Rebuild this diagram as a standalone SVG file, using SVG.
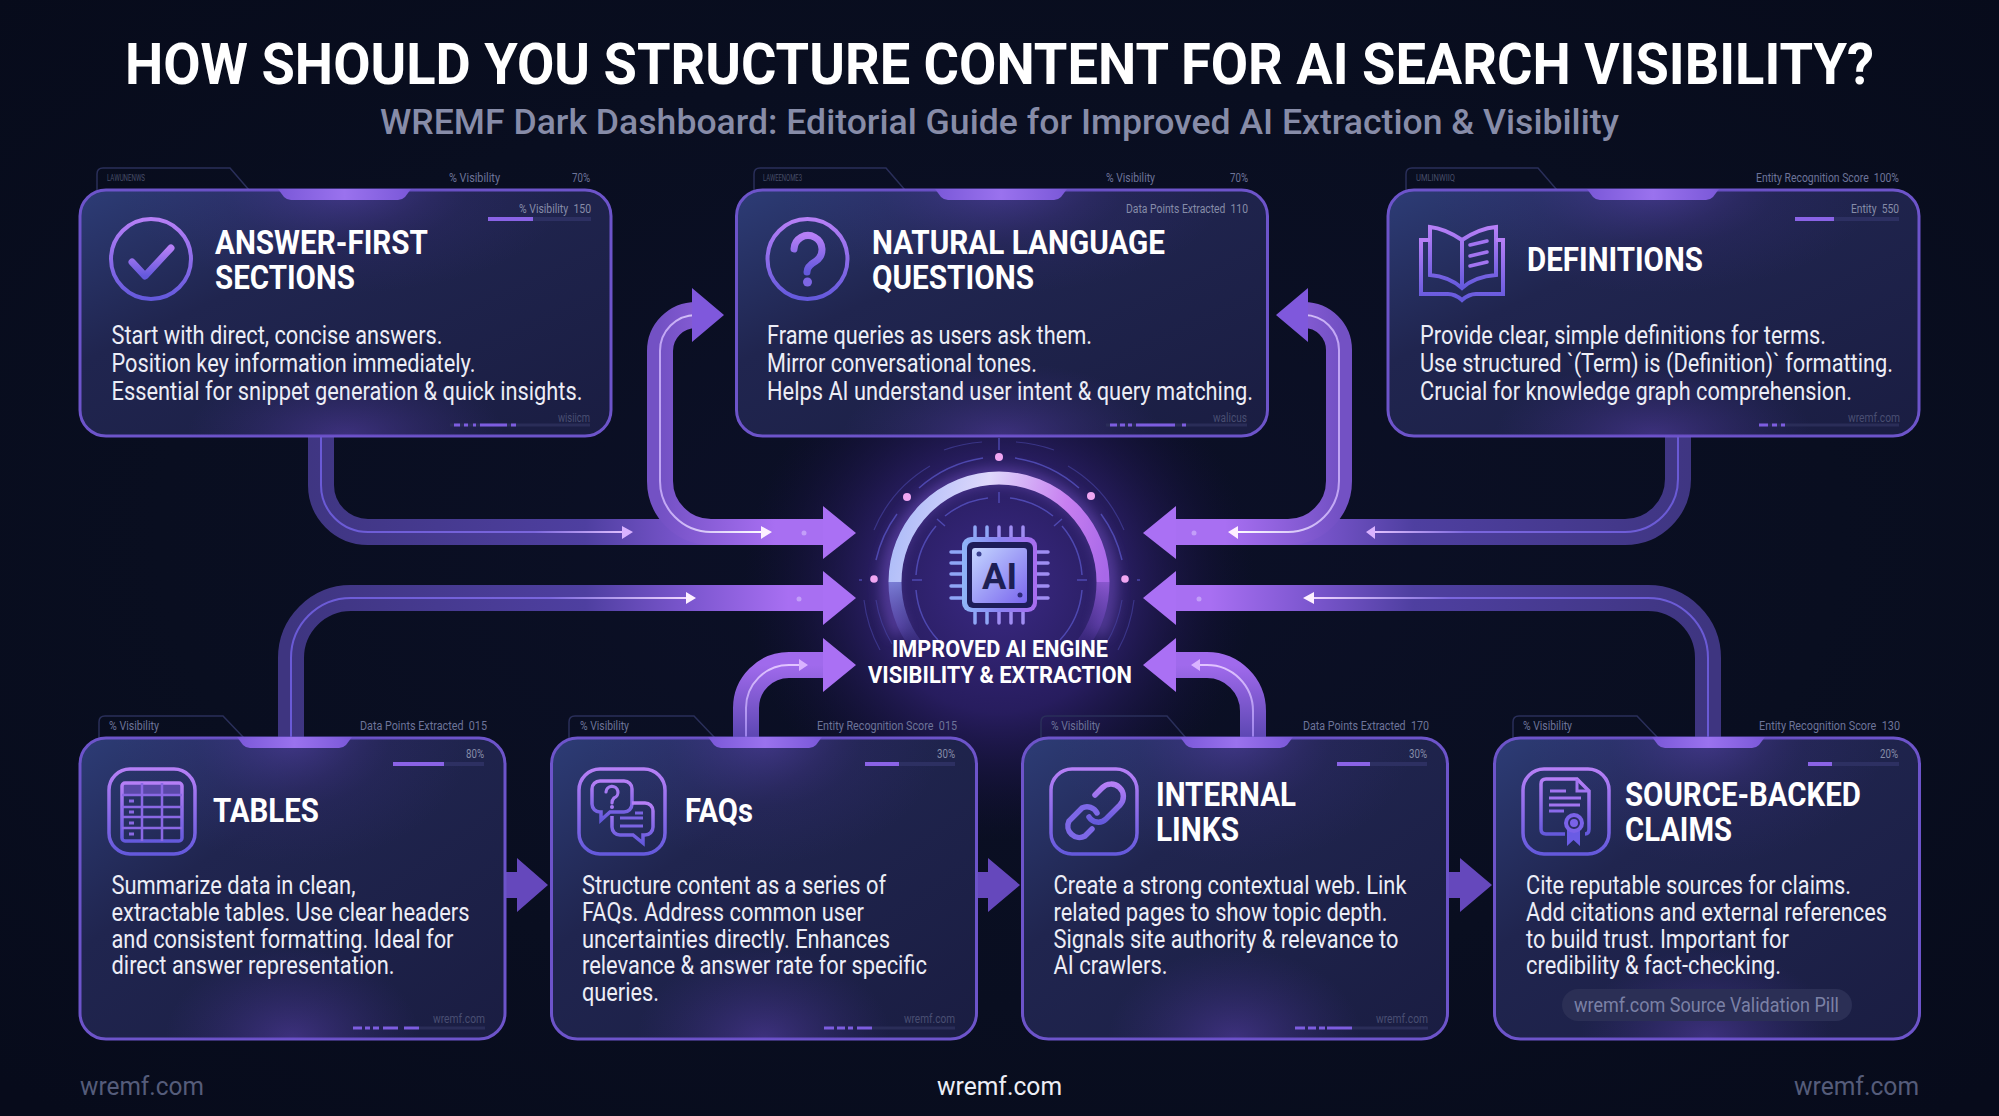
<svg xmlns="http://www.w3.org/2000/svg" width="1999" height="1116" viewBox="0 0 1999 1116">
<defs>
<radialGradient id="bg" cx="50%" cy="48%" r="70%"><stop offset="0" stop-color="#0c1028"/><stop offset="0.6" stop-color="#090e20"/><stop offset="1" stop-color="#070b1b"/></radialGradient>
<radialGradient id="coreGlow" gradientUnits="userSpaceOnUse" cx="999" cy="585" r="255"><stop offset="0" stop-color="#3c2a86" stop-opacity="1"/><stop offset="0.5" stop-color="#2c1f68" stop-opacity=".85"/><stop offset="1" stop-color="#150f3a" stop-opacity="0"/></radialGradient>
<linearGradient id="cardFill" x1="0" y1="0" x2="1" y2="1"><stop offset="0" stop-color="#2d3c76"/><stop offset="0.35" stop-color="#20254f"/><stop offset="1" stop-color="#1a1d42"/></linearGradient>
<radialGradient id="glowT" cx="50%" cy="0%" r="42%"><stop offset="0" stop-color="#6a48c8" stop-opacity=".42"/><stop offset="0.55" stop-color="#4a3498" stop-opacity=".12"/><stop offset="1" stop-color="#4a3498" stop-opacity="0"/></radialGradient>
<radialGradient id="glowB" cx="50%" cy="100%" r="30%"><stop offset="0" stop-color="#6a48c8" stop-opacity=".42"/><stop offset="1" stop-color="#4a3498" stop-opacity="0"/></radialGradient>
<linearGradient id="icon" x1="0" y1="0" x2="0" y2="1"><stop offset="0" stop-color="#b67ff6"/><stop offset="1" stop-color="#6459dc"/></linearGradient>
<linearGradient id="notch" x1="0" y1="0" x2="1" y2="0"><stop offset="0" stop-color="#7a58d8"/><stop offset="0.5" stop-color="#9a72ee"/><stop offset="1" stop-color="#7a58d8"/></linearGradient>
<linearGradient id="pR" gradientUnits="userSpaceOnUse" x1="291" y1="0" x2="826" y2="0"><stop offset="0" stop-color="#3e3580"/><stop offset="0.55" stop-color="#4e3fa0"/><stop offset="0.75" stop-color="#7d57d0"/><stop offset="0.93" stop-color="#a86ff2"/></linearGradient>
<linearGradient id="pL" gradientUnits="userSpaceOnUse" x1="1708" y1="0" x2="1173" y2="0"><stop offset="0" stop-color="#3e3580"/><stop offset="0.55" stop-color="#4e3fa0"/><stop offset="0.75" stop-color="#7d57d0"/><stop offset="0.93" stop-color="#a86ff2"/></linearGradient>
<linearGradient id="pR2" gradientUnits="userSpaceOnUse" x1="660" y1="0" x2="775" y2="0"><stop offset="0" stop-color="#7351c4"/><stop offset="1" stop-color="#a86ff2"/></linearGradient>
<linearGradient id="pL2" gradientUnits="userSpaceOnUse" x1="1339" y1="0" x2="1225" y2="0"><stop offset="0" stop-color="#7351c4"/><stop offset="1" stop-color="#a86ff2"/></linearGradient>
<linearGradient id="pS1" gradientUnits="userSpaceOnUse" x1="0" y1="738" x2="0" y2="665"><stop offset="0" stop-color="#5c47b2"/><stop offset="1" stop-color="#a06aec"/></linearGradient>
<linearGradient id="c1" gradientUnits="userSpaceOnUse" x1="321" y1="0" x2="626" y2="0"><stop offset="0" stop-color="#6a5ad6"/><stop offset="0.7" stop-color="#7a66dc"/><stop offset="1" stop-color="#e2c0ff"/></linearGradient>
<linearGradient id="c2" gradientUnits="userSpaceOnUse" x1="660" y1="0" x2="765" y2="0"><stop offset="0" stop-color="#c0a4f4"/><stop offset="1" stop-color="#ffffff"/></linearGradient>
<linearGradient id="c5" gradientUnits="userSpaceOnUse" x1="291" y1="0" x2="688" y2="0"><stop offset="0" stop-color="#6a5ad6"/><stop offset="0.65" stop-color="#7a66dc"/><stop offset="1" stop-color="#f2d8ff"/></linearGradient>
<linearGradient id="c6" gradientUnits="userSpaceOnUse" x1="0" y1="738" x2="0" y2="665"><stop offset="0" stop-color="#9a80ea"/><stop offset="1" stop-color="#e2c4ff"/></linearGradient>
<linearGradient id="c3" gradientUnits="userSpaceOnUse" x1="1339" y1="0" x2="1236" y2="0"><stop offset="0" stop-color="#c0a4f4"/><stop offset="1" stop-color="#ffffff"/></linearGradient>
<linearGradient id="c4" gradientUnits="userSpaceOnUse" x1="1678" y1="0" x2="1375" y2="0"><stop offset="0" stop-color="#6a5ad6"/><stop offset="0.7" stop-color="#7a66dc"/><stop offset="1" stop-color="#e2c0ff"/></linearGradient>
<linearGradient id="c8" gradientUnits="userSpaceOnUse" x1="1708" y1="0" x2="1311" y2="0"><stop offset="0" stop-color="#6a5ad6"/><stop offset="0.65" stop-color="#7a66dc"/><stop offset="1" stop-color="#f2d8ff"/></linearGradient>
<linearGradient id="ring" gradientUnits="userSpaceOnUse" x1="889" y1="500" x2="1109" y2="560"><stop offset="0" stop-color="#a5b8f8"/><stop offset="0.4" stop-color="#dfd8fb"/><stop offset="0.75" stop-color="#c77ff0"/><stop offset="1" stop-color="#a868e8"/></linearGradient>
<linearGradient id="ringL" gradientUnits="userSpaceOnUse" x1="0" y1="564" x2="0" y2="650"><stop offset="0" stop-color="#8f9ff0"/><stop offset="1" stop-color="#5a4ab8" stop-opacity=".15"/></linearGradient>
<linearGradient id="ringR" gradientUnits="userSpaceOnUse" x1="0" y1="564" x2="0" y2="650"><stop offset="0" stop-color="#a868e8"/><stop offset="1" stop-color="#5a3ab0" stop-opacity=".15"/></linearGradient>
<linearGradient id="chip" x1="0" y1="0" x2="1" y2="0"><stop offset="0" stop-color="#8fb6f8"/><stop offset="0.5" stop-color="#8a84f2"/><stop offset="1" stop-color="#a86cf0"/></linearGradient>
<linearGradient id="plate" x1="0" y1="0" x2="1" y2="1"><stop offset="0" stop-color="#c4d6ff"/><stop offset="1" stop-color="#7a66ee"/></linearGradient>
<filter id="soft" x="-30%" y="-30%" width="160%" height="160%"><feGaussianBlur stdDeviation="7"/></filter>
</defs>
<style>
text{font-family:Roboto,"Liberation Sans",sans-serif}
.h{font-size:58px;font-weight:700;fill:#fff}
.s{font-size:35px;font-weight:500;fill:#878ca8}
.t{font-size:33px;font-weight:700;fill:#fff}
.b{font-size:25px;font-weight:400;fill:#ecedf6}
.l{font-size:12px;fill:#6d7499;white-space:pre}
.li{font-size:12px;fill:#868ca8;white-space:pre}
.w{font-size:13px;fill:#494e72}
.g{font-size:9.5px;fill:#474d68}
.f{font-size:26px;fill:#555c7a}
.fc{font-size:26px;fill:#eceef6}
.cap{font-size:24px;font-weight:700;fill:#fff}
.card{fill:url(#cardFill);stroke:#6d54ca;stroke-width:3}
.gt{fill:url(#glowT)}.gb{fill:url(#glowB)}
.n{fill:url(#notch)}
.tab{fill:none;stroke:#2a2f5a;stroke-width:1.5}
.ic{fill:none;stroke:url(#icon);stroke-width:4}
.ib{fill:none;stroke:url(#icon);stroke-width:3.5}
.track{stroke:#2d3062;stroke-width:4;fill:none}
.fill{stroke:#8a63e6;stroke-width:4;fill:none}
.dt{stroke:#2a2d58;stroke-width:3;fill:none}
.ds{stroke:#7d5de0;stroke-width:3;fill:none}
.p{fill:none;stroke-width:26}
.cl{fill:none;stroke-width:2}
.hd{fill:#aa70f4}
.sa{fill:#6548bc}
.spark{fill:#d8c4ff;opacity:.55}
.thin{fill:none;stroke:#5a55c8;stroke-width:1.5;stroke-opacity:.75}
.thin2{fill:none;stroke:#4a46a8;stroke-width:1.2;stroke-opacity:.6}
.dot{fill:#f0a6f2}
.pin{stroke-width:3.5;stroke-linecap:round;fill:none}
</style>
<rect width="1999" height="1116" fill="url(#bg)"/>
<rect x="740" y="330" width="520" height="510" fill="url(#coreGlow)"/>
<text class="h" x="125" y="84" textLength="1749" lengthAdjust="spacingAndGlyphs">HOW SHOULD YOU STRUCTURE CONTENT FOR AI SEARCH VISIBILITY?</text>
<text class="s" x="380" y="134" textLength="1239" lengthAdjust="spacingAndGlyphs">WREMF Dark Dashboard: Editorial Guide for Improved AI Extraction &amp; Visibility</text>

<g id="connectors">
<path class="p" stroke="url(#pR)" d="M321 436 V485 A47 47 0 0 0 368 532 H826"/>
<path class="p" stroke="url(#pL)" d="M1678 436 V479 A53 53 0 0 1 1625 532 H1173"/>
<path class="p" stroke="url(#pR2)" d="M696 315 A36 36 0 0 0 660 351 V481 A51 51 0 0 0 711 532 H826"/>
<path class="p" stroke="url(#pL2)" d="M1304 315 A35 35 0 0 1 1339 350 V481 A51 51 0 0 1 1288 532 H1173"/>
<path class="p" stroke="url(#pR)" d="M291 738 V658 A60 60 0 0 1 351 598 H826"/>
<path class="p" stroke="url(#pL)" d="M1708 738 V658 A60 60 0 0 0 1648 598 H1173"/>
<path class="p" stroke="url(#pS1)" d="M746 738 V708 A43 43 0 0 1 789 665 H826"/>
<path class="p" stroke="url(#pS1)" d="M1253 738 V711 A46 46 0 0 0 1207 665 H1173"/>
<path class="cl" stroke="url(#c2)" d="M696 315 A36 36 0 0 0 660 351 V481 A51 51 0 0 0 711 532 H765"/>
<path class="cl" stroke="url(#c3)" d="M1304 315 A35 35 0 0 1 1339 350 V481 A51 51 0 0 1 1288 532 H1236"/>
<path class="cl" stroke="url(#c1)" d="M321 436 V485 A47 47 0 0 0 368 532 H626"/>
<path class="cl" stroke="url(#c4)" d="M1678 436 V479 A53 53 0 0 1 1625 532 H1375"/>
<path class="cl" stroke="url(#c5)" d="M291 738 V658 A60 60 0 0 1 351 598 H688"/>
<path class="cl" stroke="url(#c8)" d="M1708 738 V658 A60 60 0 0 0 1648 598 H1311"/>
<path class="cl" stroke="url(#c6)" d="M746 738 V708 A43 43 0 0 1 789 665 H801"/>
<path class="cl" stroke="url(#c6)" d="M1253 738 V711 A46 46 0 0 0 1207 665 H1198"/>
<path fill="#d9b2ff" d="M622 526 L633 532 L622 539ZM1375 526 L1366 532 L1375 539ZM799 659 L808 665 L799 671ZM1200 659 L1191 665 L1200 671Z"/>
<path fill="#fdf0ff" d="M761 526 L772 532 L761 539ZM1238 526 L1228 532 L1238 539ZM686 592 L696 598 L686 604ZM1314 592 L1303 598 L1314 604Z"/>
<path fill="#7f58dc" d="M692 288 L724 315 L692 342ZM1308 288 L1276 315 L1308 342Z"/>
<path class="hd" d="M823 506 L856 533 L823 559ZM823 571 L856 598 L823 625ZM823 638 L856 665 L823 692ZM1176 506 L1143 533 L1176 559ZM1176 571 L1143 598 L1176 625ZM1176 638 L1143 665 L1176 692Z"/>
<path class="sa" d="M506 872 H517 V858 L548 885 L517 912 V898 H506ZM977 872 H988 V858 L1020 885 L988 912 V898 H977ZM1448 872 H1460 V858 L1492 885 L1460 912 V898 H1448Z"/>
<circle class="spark" cx="804" cy="533" r="2.5"/><circle class="spark" cx="799" cy="599" r="2.5"/><circle class="spark" cx="1194" cy="533" r="2.5"/><circle class="spark" cx="1199" cy="599" r="2.5"/>
</g>

<g id="engine">
<path d="M900 634 A110 110 0 1 1 1098 634" fill="none" stroke="#8a60e0" stroke-width="16" opacity=".45" filter="url(#soft)"/>
<path class="thin2" d="M874 530 A135 135 0 0 1 930 466M944 450 A140 140 0 0 1 982 442M1016 442 A140 140 0 0 1 1054 450M1068 466 A135 135 0 0 1 1124 530"/>
<path class="thin" d="M876 560 A124 124 0 0 1 897 514M919 488 A124 124 0 0 1 983 458M1015 458 A124 124 0 0 1 1079 488M1101 514 A124 124 0 0 1 1122 560"/>
<path class="thin2" d="M864 600 A136 136 0 0 0 880 650M1134 600 A136 136 0 0 1 1118 650M876 600 A124 124 0 0 0 892 644M1122 600 A124 124 0 0 1 1106 644"/>
<path class="thin" d="M916 575 A84 84 0 0 1 936 526M945 516 A84 84 0 0 1 988 498M1010 498 A84 84 0 0 1 1053 516M1062 526 A84 84 0 0 1 1082 575M916 590 A84 84 0 0 0 938 640M1082 590 A84 84 0 0 1 1060 640"/>
<path class="thin" d="M999 492 V503M912 580 H922M1077 580 H1087M937 519 L945 526M1062 519 L1054 526M999 438 V450M859 580 H862M1137 580 H1140"/>
<path d="M895 582 A104 104 0 0 1 1103 582" fill="none" stroke="url(#ring)" stroke-width="13"/>
<path d="M895 582 A104 104 0 0 0 916 645" fill="none" stroke="url(#ringL)" stroke-width="13"/>
<path d="M1103 582 A104 104 0 0 1 1082 645" fill="none" stroke="url(#ringR)" stroke-width="13"/>
<circle class="dot" cx="999" cy="457" r="4"/><circle class="dot" cx="907" cy="497" r="4"/><circle class="dot" cx="1091" cy="496" r="4"/><circle class="dot" cx="874" cy="579" r="3.8"/><circle class="dot" cx="1125" cy="579" r="3.8"/>
<path class="pin" stroke="#8fa6f6" d="M975 527 V537M987 527 V537M975 612 V623M987 612 V623M951 552 H962M951 563 H962M951 574 H962M951 586 H962M951 598 H962"/>
<path class="pin" stroke="#9f8df2" d="M999 527 V537M1011 527 V537M1023 527 V537M999 612 V623M1011 612 V623M1023 612 V623M1037 552 H1048M1037 563 H1048M1037 574 H1048M1037 586 H1048M1037 598 H1048"/>
<rect x="962" y="537" width="75" height="75" rx="9" fill="url(#chip)"/>
<rect x="967" y="542" width="66" height="66" rx="6" fill="#1d1c58"/>
<rect x="972" y="548" width="55" height="55" rx="3" fill="url(#plate)"/>
<circle cx="979" cy="554" r="2.5" fill="#3a4090"/><circle cx="1020" cy="595" r="2.5" fill="#2e2a78"/>
<text x="982" y="589" font-size="36" font-weight="700" fill="#1e1f55" textLength="35" lengthAdjust="spacingAndGlyphs">AI</text>
<text class="cap" x="892" y="657" textLength="216" lengthAdjust="spacingAndGlyphs">IMPROVED AI ENGINE</text>
<text class="cap" x="868" y="683" textLength="264" lengthAdjust="spacingAndGlyphs">VISIBILITY &amp; EXTRACTION</text>
</g>

<g id="card-answer-first">
<path class="tab" d="M97 190 V174 Q97 168 103 168 H230 L249 190"/>
<text class="g" x="107" y="181" textLength="38" lengthAdjust="spacingAndGlyphs">LAWUNENWS</text>
<text class="l" x="449" y="182" textLength="51" lengthAdjust="spacingAndGlyphs">% Visibility</text>
<text class="l" x="572" y="182" textLength="18" lengthAdjust="spacingAndGlyphs">70%</text>
<rect class="card" x="80" y="190" width="531" height="246" rx="26"/>
<rect class="gt" x="80" y="190" width="531" height="246" rx="26"/><rect class="gb" x="80" y="190" width="531" height="246" rx="26"/>
<path class="n" d="M278 189 H411 L405 197 Q402 200 398 200 H291 Q287 200 284 197Z"/>
<text class="li" x="519" y="213" textLength="72" lengthAdjust="spacingAndGlyphs">% Visibility  150</text>
<path class="track" d="M488 219 H591"/><path class="fill" d="M488 219 H533"/>
<circle class="ic" cx="151" cy="259" r="40" stroke-width="5"/>
<path fill="none" stroke="url(#icon)" stroke-width="7" stroke-linecap="round" stroke-linejoin="round" d="M132 262 L145 276 L171 248"/>
<text class="t"><tspan x="215" y="254" textLength="213" lengthAdjust="spacingAndGlyphs">ANSWER-FIRST</tspan><tspan x="215" y="289" textLength="140" lengthAdjust="spacingAndGlyphs">SECTIONS</tspan></text>
<text class="b" x="111.500" y="344" textLength="331" lengthAdjust="spacingAndGlyphs">Start with direct, concise answers.</text>
<text class="b" x="111.500" y="372" textLength="364" lengthAdjust="spacingAndGlyphs">Position key information immediately.</text>
<text class="b" x="111.500" y="400" textLength="471" lengthAdjust="spacingAndGlyphs">Essential for snippet generation &amp; quick insights.</text>
<text class="w" x="558" y="422" textLength="32" lengthAdjust="spacingAndGlyphs">wisiicm</text>
<path class="dt" d="M450 425 H590"/><path class="ds" d="M454 425 H460M464 425 H468M473 425 H476M480 425 H507M511 425 H516"/>
</g>

<g id="card-natural-language">
<path class="tab" d="M754 190 V174 Q754 168 760 168 H886 L905 190"/>
<text class="g" x="763" y="181" textLength="39" lengthAdjust="spacingAndGlyphs">LAWEENOME3</text>
<text class="l" x="1106" y="182" textLength="49" lengthAdjust="spacingAndGlyphs">% Visibility</text>
<text class="l" x="1230" y="182" textLength="18" lengthAdjust="spacingAndGlyphs">70%</text>
<rect class="card" x="736.500" y="190" width="531" height="246" rx="26"/>
<rect class="gt" x="736.500" y="190" width="531" height="246" rx="26"/><rect class="gb" x="736.500" y="190" width="531" height="246" rx="26"/>
<path class="n" d="M935 189 H1067 L1061 197 Q1058 200 1054 200 H948 Q944 200 941 197Z"/>
<text class="li" x="1126" y="213" textLength="122" lengthAdjust="spacingAndGlyphs">Data Points Extracted  110</text>
<circle class="ic" cx="807.500" cy="259" r="40" stroke-width="5"/>
<path fill="none" stroke="url(#icon)" stroke-width="7" stroke-linecap="round" d="M794 249 A14 14 0 1 1 816 261 C809 265 807 268 807 272"/>
<circle cx="807.500" cy="282" r="4.500" fill="#7d66e4"/>
<text class="t"><tspan x="872" y="254" textLength="293" lengthAdjust="spacingAndGlyphs">NATURAL LANGUAGE</tspan><tspan x="872" y="289" textLength="162" lengthAdjust="spacingAndGlyphs">QUESTIONS</tspan></text>
<text class="b" x="767" y="344" textLength="325" lengthAdjust="spacingAndGlyphs">Frame queries as users ask them.</text>
<text class="b" x="767" y="372" textLength="270" lengthAdjust="spacingAndGlyphs">Mirror conversational tones.</text>
<text class="b" x="767" y="400" textLength="486" lengthAdjust="spacingAndGlyphs">Helps AI understand user intent &amp; query matching.</text>
<text class="w" x="1213" y="422" textLength="34" lengthAdjust="spacingAndGlyphs">walicus</text>
<path class="dt" d="M1106 425 H1247"/><path class="ds" d="M1110 425 H1117M1120 425 H1125M1128 425 H1132M1136 425 H1175M1182 425 H1186"/>
</g>

<g id="card-definitions">
<path class="tab" d="M1406 190 V174 Q1406 168 1412 168 H1538 L1557 190"/>
<text class="g" x="1416" y="181" textLength="39" lengthAdjust="spacingAndGlyphs">UMLINWIIQ</text>
<text class="l" x="1756" y="182" textLength="143" lengthAdjust="spacingAndGlyphs">Entity Recognition Score  100%</text>
<rect class="card" x="1388" y="190" width="531" height="246" rx="26"/>
<rect class="gt" x="1388" y="190" width="531" height="246" rx="26"/><rect class="gb" x="1388" y="190" width="531" height="246" rx="26"/>
<path class="n" d="M1587 189 H1719 L1713 197 Q1710 200 1706 200 H1600 Q1596 200 1593 197Z"/>
<text class="li" x="1851" y="213" textLength="48" lengthAdjust="spacingAndGlyphs">Entity  550</text>
<path class="track" d="M1795 219 H1899"/><path class="fill" d="M1795 219 H1834"/>
<path class="ic" d="M1462 240 C1450 232 1440 228 1430 227 V275 C1442 276 1453 280 1462 288 C1471 280 1482 276 1496 275 V227 C1484 228 1474 232 1462 240 V288"/>
<path class="ic" d="M1430 240 H1421 V294 H1448 Q1455 294 1462 300 Q1469 294 1476 294 H1503 V240 H1496"/>
<path fill="none" stroke="#a274f0" stroke-width="3.500" stroke-linecap="round" d="M1470 245 L1487 241M1470 256 L1487 252M1470 266 L1487 262"/>
<text class="t" x="1527" y="271" textLength="176" lengthAdjust="spacingAndGlyphs">DEFINITIONS</text>
<text class="b" x="1420" y="344" textLength="406" lengthAdjust="spacingAndGlyphs">Provide clear, simple definitions for terms.</text>
<text class="b" x="1420" y="372" textLength="473" lengthAdjust="spacingAndGlyphs">Use structured `(Term) is (Definition)` formatting.</text>
<text class="b" x="1420" y="400" textLength="432" lengthAdjust="spacingAndGlyphs">Crucial for knowledge graph comprehension.</text>
<text class="w" x="1848" y="422" textLength="52" lengthAdjust="spacingAndGlyphs">wremf.com</text>
<path class="dt" d="M1759 425 H1899"/><path class="ds" d="M1759 425 H1768M1772 425 H1777M1781 425 H1785"/>
</g>

<g id="card-tables">
<path class="tab" d="M99 738 V722 Q99 716 105 716 H223 L244 738"/>
<text class="l" x="109" y="730" textLength="50" lengthAdjust="spacingAndGlyphs">% Visibility</text>
<text class="l" x="360" y="730" textLength="127" lengthAdjust="spacingAndGlyphs">Data Points Extracted  015</text>
<rect class="card" x="80" y="738" width="425" height="301" rx="26"/>
<rect class="gt" x="80" y="738" width="425" height="301" rx="26"/><rect class="gb" x="80" y="738" width="425" height="301" rx="26"/>
<path class="n" d="M237 737 H352 L346 745 Q343 748 339 748 H250 Q246 748 243 745Z"/>
<text class="li" x="466" y="758" textLength="18" lengthAdjust="spacingAndGlyphs">80%</text>
<path class="track" d="M393 764 H484"/><path class="fill" d="M393 764 H444"/>
<rect class="ib" x="109" y="769" width="86" height="85" rx="21"/>
<rect x="122" y="783" width="60" height="12" fill="#5a49a8"/>
<rect class="ib" x="122" y="783" width="60" height="58" rx="3" stroke-width="3"/>
<path fill="none" stroke="#8a68e4" stroke-width="2.500" d="M142 783 V841M162 783 V841M122 795 H182M122 807 H182M122 817 H182M122 828 H182"/>
<path fill="none" stroke="#8a68e4" stroke-width="3" d="M129 801 H134M129 812 H134M129 823 H134M129 834 H134"/>
<text class="t" x="213" y="822" textLength="106" lengthAdjust="spacingAndGlyphs">TABLES</text>
<text class="b" x="111.500" y="894" textLength="244" lengthAdjust="spacingAndGlyphs">Summarize data in clean,</text>
<text class="b" x="111.500" y="921" textLength="358" lengthAdjust="spacingAndGlyphs">extractable tables. Use clear headers</text>
<text class="b" x="111.500" y="948" textLength="342" lengthAdjust="spacingAndGlyphs">and consistent formatting. Ideal for</text>
<text class="b" x="111.500" y="974" textLength="283" lengthAdjust="spacingAndGlyphs">direct answer representation.</text>
<text class="w" x="433" y="1023" textLength="52" lengthAdjust="spacingAndGlyphs">wremf.com</text>
<path class="dt" d="M419 1028 H485"/><path class="ds" d="M353 1028 H362M365 1028 H370M373 1028 H379M383 1028 H398M404 1028 H419"/>
</g>

<g id="card-faqs">
<path class="tab" d="M569 738 V722 Q569 716 575 716 H694 L715 738"/>
<text class="l" x="580" y="730" textLength="49" lengthAdjust="spacingAndGlyphs">% Visibility</text>
<text class="l" x="817" y="730" textLength="140" lengthAdjust="spacingAndGlyphs">Entity Recognition Score  015</text>
<rect class="card" x="551.500" y="738" width="425" height="301" rx="26"/>
<rect class="gt" x="551.500" y="738" width="425" height="301" rx="26"/><rect class="gb" x="551.500" y="738" width="425" height="301" rx="26"/>
<path class="n" d="M708 737 H822 L816 745 Q813 748 809 748 H721 Q717 748 714 745Z"/>
<text class="li" x="937" y="758" textLength="18" lengthAdjust="spacingAndGlyphs">30%</text>
<path class="track" d="M865 764 H955"/><path class="fill" d="M865 764 H899"/>
<rect class="ib" x="579" y="769" width="86" height="85" rx="21"/>
<path class="ib" d="M600 781 H624 A8 8 0 0 1 632 789 V804 A8 8 0 0 1 624 812 H610 L601 820 V812 H600 A8 8 0 0 1 592 804 V789 A8 8 0 0 1 600 781Z"/>
<path class="ib" d="M632 803 H645 A8 8 0 0 1 653 811 V827 A8 8 0 0 1 645 835 H643 L643 843 L633 835 H620 A8 8 0 0 1 612 827 V816"/>
<path fill="none" stroke="#a67af2" stroke-width="3.200" stroke-linecap="round" d="M606 792 A6 6 0 1 1 614 798 C612 800 612 801 612 803"/>
<circle cx="612" cy="807" r="2" fill="#a67af2"/>
<path fill="none" stroke="#7a64e2" stroke-width="3" d="M635 813 H643M620 818 H643M620 826 H643"/>
<text class="t" x="685" y="822" textLength="68" lengthAdjust="spacingAndGlyphs">FAQs</text>
<text class="b" x="582" y="894" textLength="304" lengthAdjust="spacingAndGlyphs">Structure content as a series of</text>
<text class="b" x="582" y="921" textLength="282" lengthAdjust="spacingAndGlyphs">FAQs. Address common user</text>
<text class="b" x="582" y="948" textLength="308" lengthAdjust="spacingAndGlyphs">uncertainties directly. Enhances</text>
<text class="b" x="582" y="974" textLength="345" lengthAdjust="spacingAndGlyphs">relevance &amp; answer rate for specific</text>
<text class="b" x="582" y="1001" textLength="77" lengthAdjust="spacingAndGlyphs">queries.</text>
<text class="w" x="904" y="1023" textLength="51" lengthAdjust="spacingAndGlyphs">wremf.com</text>
<path class="dt" d="M872 1028 H955"/><path class="ds" d="M824 1028 H834M837 1028 H845M848 1028 H853M857 1028 H872"/>
</g>

<g id="card-internal-links">
<path class="tab" d="M1041 738 V722 Q1041 716 1047 716 H1167 L1186 738"/>
<text class="l" x="1051" y="730" textLength="49" lengthAdjust="spacingAndGlyphs">% Visibility</text>
<text class="l" x="1303" y="730" textLength="126" lengthAdjust="spacingAndGlyphs">Data Points Extracted  170</text>
<rect class="card" x="1022.500" y="738" width="425" height="301" rx="26"/>
<rect class="gt" x="1022.500" y="738" width="425" height="301" rx="26"/><rect class="gb" x="1022.500" y="738" width="425" height="301" rx="26"/>
<path class="n" d="M1180 737 H1293 L1287 745 Q1284 748 1280 748 H1193 Q1189 748 1186 745Z"/>
<text class="li" x="1409" y="758" textLength="18" lengthAdjust="spacingAndGlyphs">30%</text>
<path class="track" d="M1337 764 H1427"/><path class="fill" d="M1337 764 H1370"/>
<rect class="ib" x="1051" y="769" width="86" height="85" rx="21"/>
<path fill="none" stroke="url(#icon)" stroke-width="5.500" stroke-linecap="round" d="M1095 795 L1102 788 A12 12 0 0 1 1120 805 L1106 819 A11 11 0 0 1 1089 817"/>
<path fill="none" stroke="#7d68e6" stroke-width="5.500" stroke-linecap="round" d="M1097 813 A11 11 0 0 0 1082 808 L1069 821 A11.500 11.500 0 0 0 1085 836 L1092 829"/>
<text class="t"><tspan x="1156" y="806" textLength="140" lengthAdjust="spacingAndGlyphs">INTERNAL</tspan><tspan x="1156" y="841" textLength="83" lengthAdjust="spacingAndGlyphs">LINKS</tspan></text>
<text class="b" x="1053.500" y="894" textLength="353" lengthAdjust="spacingAndGlyphs">Create a strong contextual web. Link</text>
<text class="b" x="1053.500" y="921" textLength="334" lengthAdjust="spacingAndGlyphs">related pages to show topic depth.</text>
<text class="b" x="1053.500" y="948" textLength="345" lengthAdjust="spacingAndGlyphs">Signals site authority &amp; relevance to</text>
<text class="b" x="1053.500" y="974" textLength="114" lengthAdjust="spacingAndGlyphs">AI crawlers.</text>
<text class="w" x="1376" y="1023" textLength="52" lengthAdjust="spacingAndGlyphs">wremf.com</text>
<path class="dt" d="M1352 1028 H1428"/><path class="ds" d="M1295 1028 H1305M1308 1028 H1316M1319 1028 H1325M1327 1028 H1352"/>
</g>

<g id="card-source-backed">
<path class="tab" d="M1513 738 V722 Q1513 716 1519 716 H1637 L1658 738"/>
<text class="l" x="1523" y="730" textLength="49" lengthAdjust="spacingAndGlyphs">% Visibility</text>
<text class="l" x="1759" y="730" textLength="141" lengthAdjust="spacingAndGlyphs">Entity Recognition Score  130</text>
<rect class="card" x="1494.500" y="738" width="425" height="301" rx="26"/>
<rect class="gt" x="1494.500" y="738" width="425" height="301" rx="26"/><rect class="gb" x="1494.500" y="738" width="425" height="301" rx="26"/>
<path class="n" d="M1652 737 H1765 L1759 745 Q1756 748 1752 748 H1665 Q1661 748 1658 745Z"/>
<text class="li" x="1880" y="758" textLength="18" lengthAdjust="spacingAndGlyphs">20%</text>
<path class="track" d="M1808 764 H1899"/><path class="fill" d="M1808 764 H1832"/>
<rect class="ib" x="1523" y="769" width="86" height="85" rx="21"/>
<path class="ib" d="M1565 834 H1546 Q1541 834 1541 829 V784 Q1541 779 1546 779 H1577 L1589 791 V829 Q1589 834 1585 834"/>
<path fill="none" stroke="#a274f0" stroke-width="3" d="M1577 779 V791 H1589M1550 791 H1566M1549 798 H1581M1549 805 H1580"/>
<path fill="none" stroke="#8a6aea" stroke-width="3" d="M1549 811 H1564"/>
<path fill="#6a5ce4" d="M1567 830 H1580 V846 L1573.500 840 L1567 846Z"/>
<circle cx="1574" cy="823" r="10" fill="#7a62e8"/><circle cx="1574" cy="823" r="5" fill="none" stroke="#2a2c60" stroke-width="2"/>
<text class="t"><tspan x="1625" y="806" textLength="236" lengthAdjust="spacingAndGlyphs">SOURCE-BACKED</tspan><tspan x="1625" y="841" textLength="107" lengthAdjust="spacingAndGlyphs">CLAIMS</tspan></text>
<text class="b" x="1526" y="894" textLength="325" lengthAdjust="spacingAndGlyphs">Cite reputable sources for claims.</text>
<text class="b" x="1526" y="921" textLength="361" lengthAdjust="spacingAndGlyphs">Add citations and external references</text>
<text class="b" x="1526" y="948" textLength="263" lengthAdjust="spacingAndGlyphs">to build trust. Important for</text>
<text class="b" x="1526" y="974" textLength="255" lengthAdjust="spacingAndGlyphs">credibility &amp; fact-checking.</text>
<rect x="1562" y="989" width="290" height="32" rx="16" fill="#2b2f55"/>
<text x="1574" y="1012" font-size="21" fill="#7b81a6" textLength="265" lengthAdjust="spacingAndGlyphs">wremf.com Source Validation Pill</text>
</g>

<g id="footer">
<text class="f" x="80" y="1095" textLength="124" lengthAdjust="spacingAndGlyphs">wremf.com</text>
<text class="fc" x="937" y="1095" textLength="125" lengthAdjust="spacingAndGlyphs">wremf.com</text>
<text class="f" x="1794" y="1095" textLength="125" lengthAdjust="spacingAndGlyphs">wremf.com</text>
</g>
</svg>
